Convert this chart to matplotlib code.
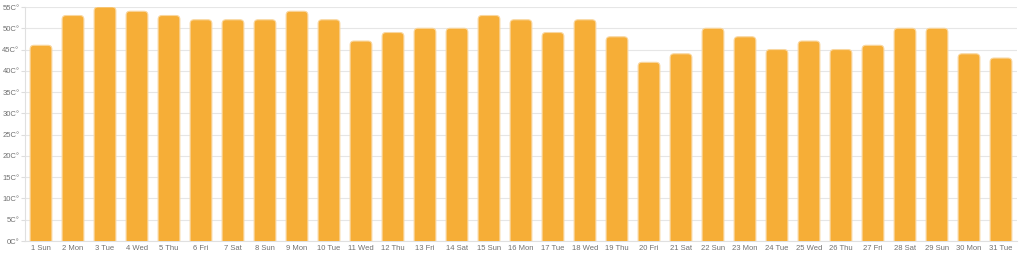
import matplotlib
matplotlib.use("Agg")
import matplotlib.pyplot as plt
from matplotlib.patches import FancyBboxPatch

days = ["1 Sun", "2 Mon", "3 Tue", "4 Wed", "5 Thu", "6 Fri", "7 Sat", "8 Sun", "9 Mon", "10 Tue",
        "11 Wed", "12 Thu", "13 Fri", "14 Sat", "15 Sun", "16 Mon", "17 Tue", "18 Wed", "19 Thu",
        "20 Fri", "21 Sat", "22 Sun", "23 Mon", "24 Tue", "25 Wed", "26 Thu", "27 Fri", "28 Sat",
        "29 Sun", "30 Mon", "31 Tue"]
temps = [46, 53, 55, 54, 53, 52, 52, 52, 54, 52,
         47, 49, 50, 50, 53, 52, 49, 52, 48,
         42, 44, 50, 48, 45, 47, 45, 46, 50,
         50, 44, 43]
yticks = list(range(0, 60, 5))
ytick_labels = [f"{v}C°" for v in yticks]

plt.rcParams['font.family'] = ['Liberation Sans', 'DejaVu Sans']

fig = plt.figure(figsize=(10.21, 2.58), dpi=100)
ax = fig.add_axes([25 / 1021, 17 / 258, 992 / 1021, 234 / 258])

bars = ax.bar(range(len(days)), temps, width=0.68, color="none", edgecolor="none")
# redraw each bar with a rounded top
for b in bars:
    x, w, h = b.get_x(), b.get_width(), b.get_height()
    p = FancyBboxPatch((x, -2), w, h + 2, boxstyle="round,pad=0,rounding_size=0.12",
                       mutation_aspect=7.5, facecolor="#f6ae37", edgecolor="#f9d7a0",
                       linewidth=0.8, zorder=3)
    ax.add_patch(p)

ax.set_xlim(-0.5, len(days) - 0.5)
ax.set_ylim(0, 55)
ax.set_yticks(yticks)
ax.set_yticklabels(ytick_labels)
ax.set_xticks(range(len(days)))
ax.set_xticklabels(days)
ax.tick_params(axis="both", labelsize=5.5, labelcolor="#707070", colors="#dddddd", length=3, width=0.8)
ax.tick_params(axis="x", length=0, pad=3)
ax.tick_params(axis="y", pad=1)
ax.grid(axis="y", color="#e6e6e6", linewidth=0.8, zorder=0)
ax.set_axisbelow(True)
for s in ["top", "right"]:
    ax.spines[s].set_visible(False)
for s in ["left", "bottom"]:
    ax.spines[s].set_color("#e0e0e0")
    ax.spines[s].set_linewidth(0.8)

fig.savefig("out.png", dpi=100)
